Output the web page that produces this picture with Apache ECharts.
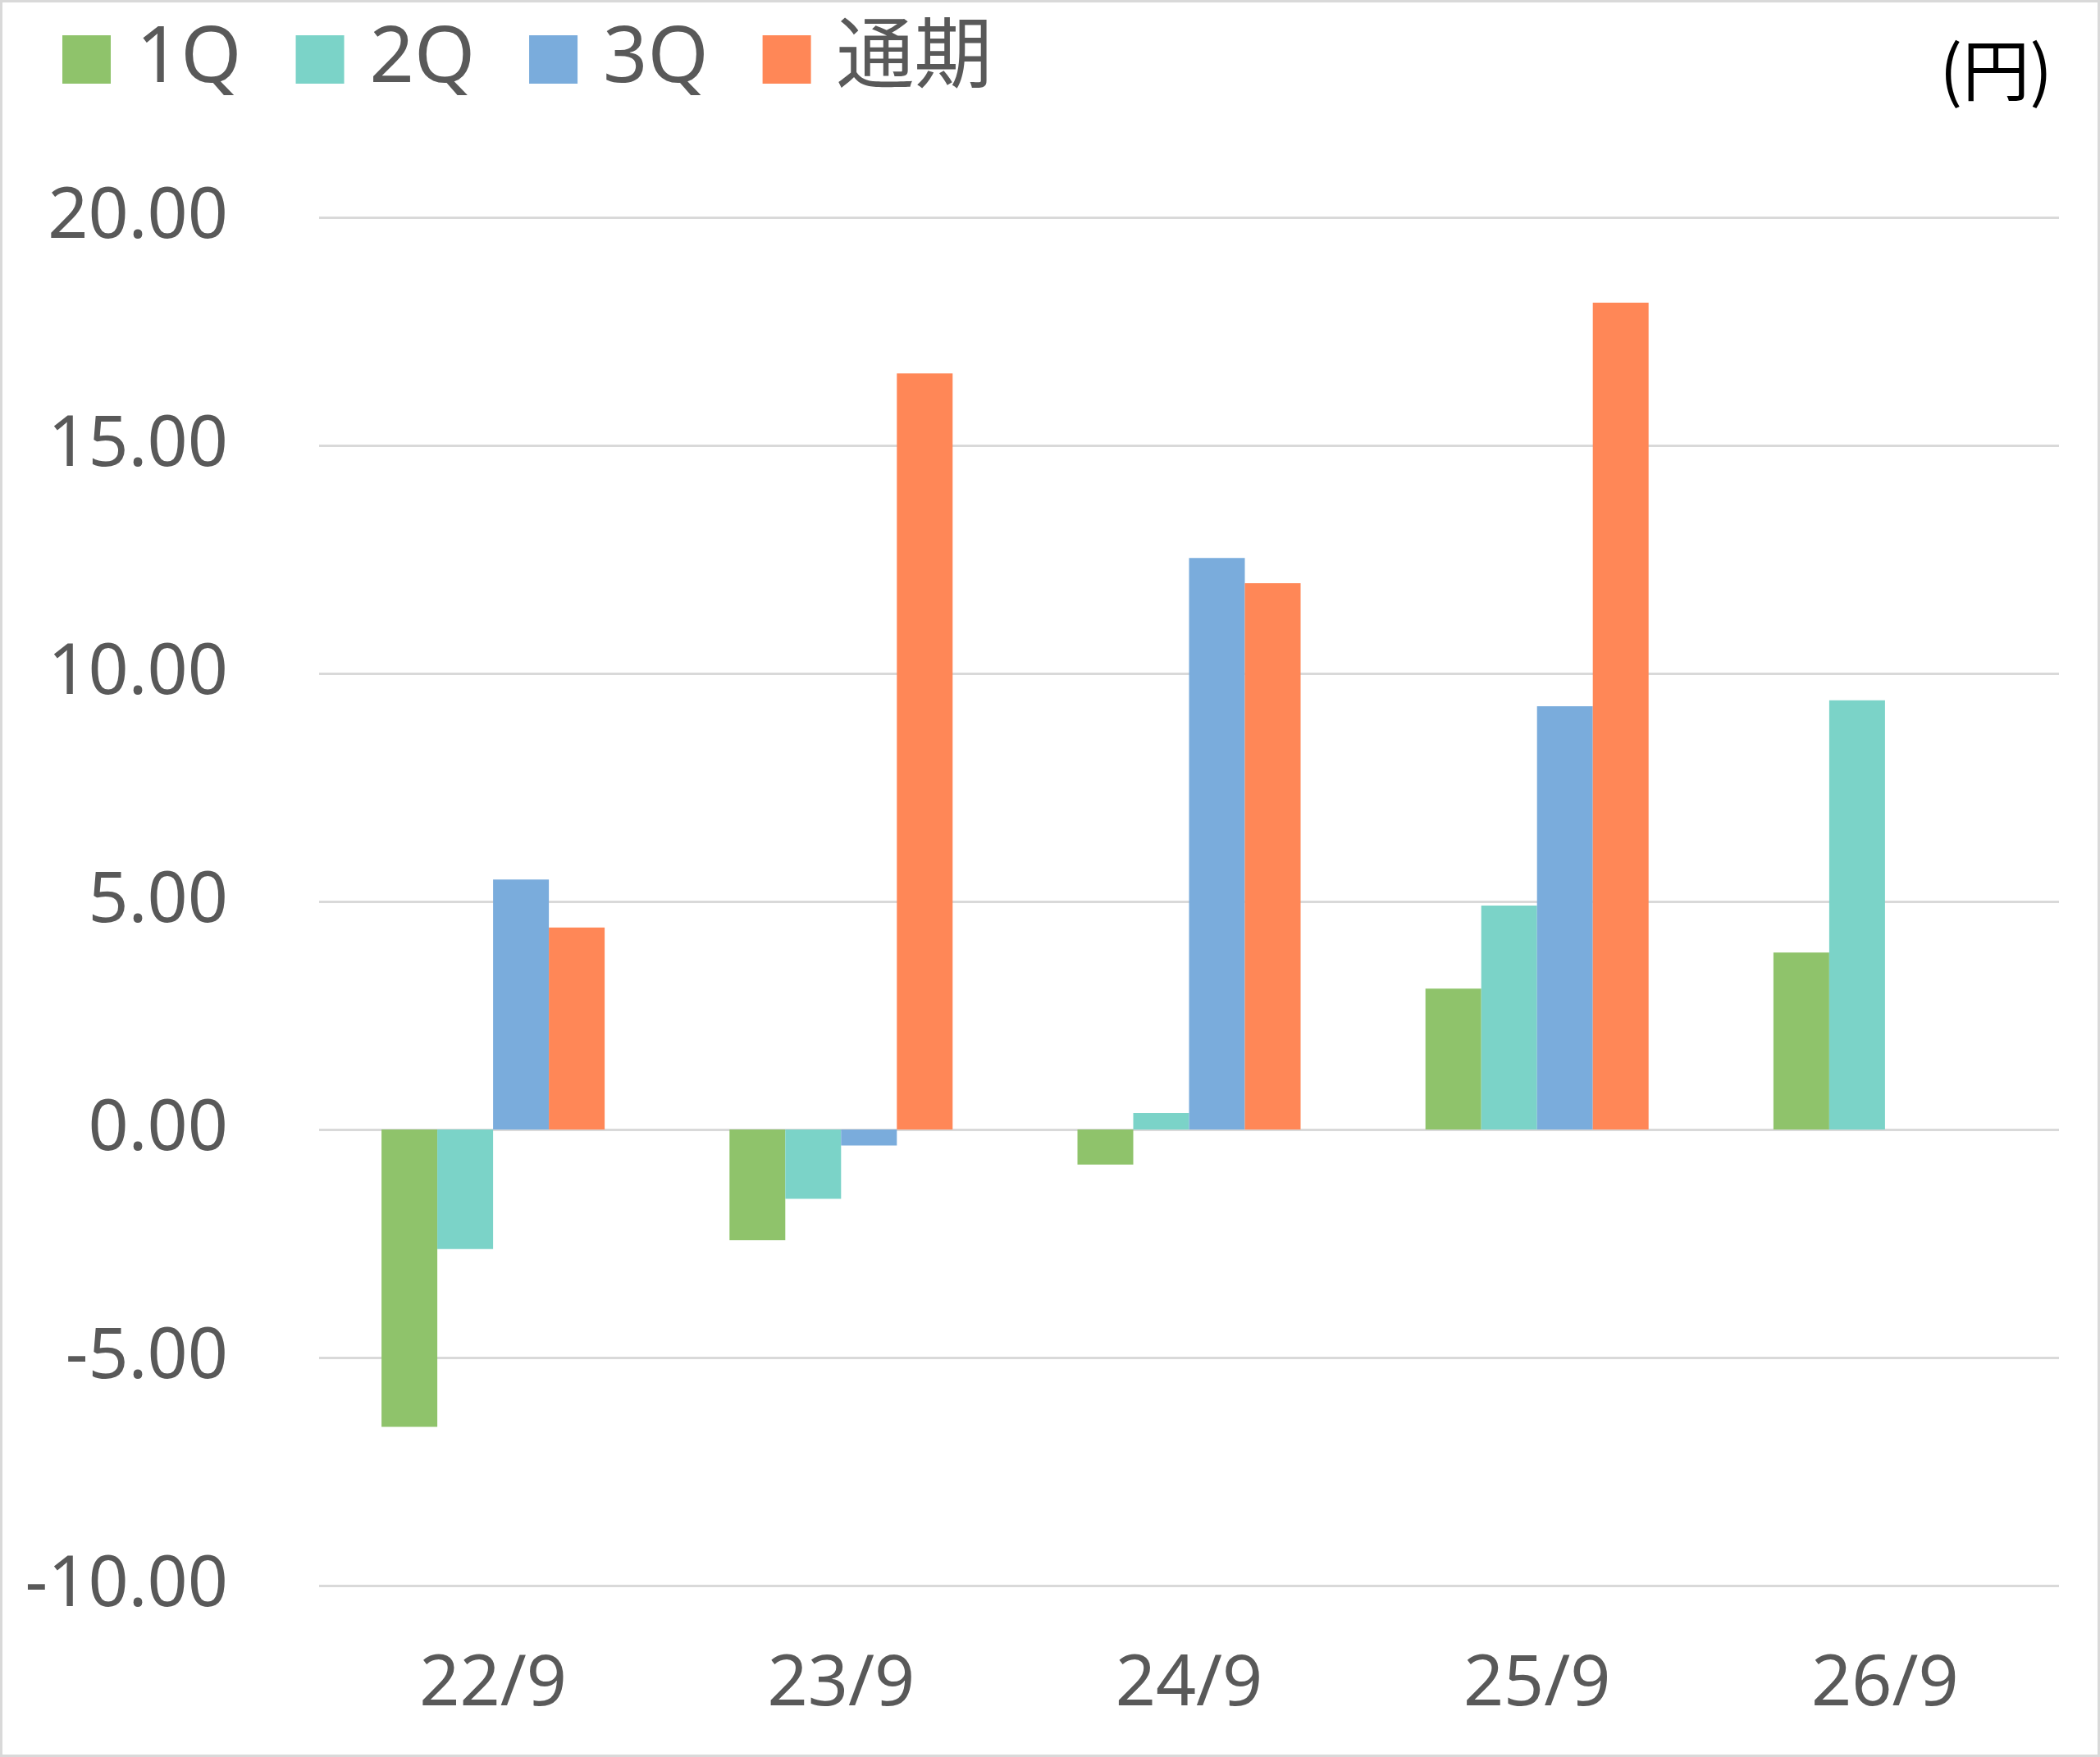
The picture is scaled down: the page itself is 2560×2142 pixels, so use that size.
<!DOCTYPE html>
<html lang="ja">
  <head>
    <meta charset="UTF-8" />
    <title>四半期別 推移</title>
    <script src="https://cdn.jsdelivr.net/npm/echarts@6.0.0/dist/echarts.min.js"></script>
    <style>
      html,
      body {
        margin: 0;
        padding: 0;
        background: #fff;
      }
      #main {
        width: 2560px;
        height: 2142px;
      }
    </style>
  </head>
  <body>
    <div id="main"></div>

    <script>
      // values (円)
      const periods = ["22/9", "23/9", "24/9", "25/9", "26/9"];
      const seriesNames = ["1Q", "2Q", "3Q", "通期"];
      const q1 = [-6.52, -2.43, -0.77, 3.09, 3.88];
      const q2 = [-2.62, -1.52, 0.36, 4.91, 9.41];
      const q3 = [5.48, -0.35, 12.53, 9.28, null];
      const fullYear = [4.43, 16.58, 11.98, 18.13, null];
      const colors = ["#8FC36B", "#7BD3C8", "#7AACDC", "#FF8757"];

      const font = "'Noto Sans', 'Noto Sans CJK JP', sans-serif";
      const textColor = "#595959";
      const gridColor = "#D9D9D9";

      const chart = echarts.init(document.getElementById("main"));

      function bar(name, data, color) {
        return {
          name: name,
          type: "bar",
          data: data,
          barWidth: 68,
          barGap: "0%",
          itemStyle: { color: color },
          emphasis: { disabled: true },
        };
      }

      const option = {
        animation: false,
        textStyle: { fontFamily: font },
        graphic: [
          {
            type: "rect",
            silent: true,
            shape: { x: 0, y: 0, width: 2560, height: 2142 },
            style: { fill: "none", stroke: gridColor, lineWidth: 6 },
          },
          {
            type: "text",
            right: 58,
            top: 44,
            style: {
              text: "(円)",
              font: "82px 'Noto Sans CJK JP', sans-serif",
              fill: "#000",
            },
          },
        ],
        legend: {
          left: 71,
          top: 20,
          itemWidth: 59,
          itemHeight: 59,
          itemGap: 66,
          icon: "rect",
          selectedMode: false,
          textStyle: {
            fontFamily: font,
            fontSize: 95,
            color: textColor,
            padding: [0, 0, 0, 26],
          },
          data: seriesNames,
        },
        grid: {
          left: 389,
          right: 50,
          top: 265,
          bottom: 209,
          containLabel: false,
        },
        xAxis: {
          type: "category",
          data: periods,
          axisLine: { show: false, onZero: false },
          axisTick: { show: false },
          axisLabel: {
            margin: 78,
            fontSize: 86,
            color: textColor,
            fontFamily: font,
          },
        },
        yAxis: {
          type: "value",
          min: -10,
          max: 20,
          interval: 5,
          axisLine: { show: false },
          axisTick: { show: false },
          axisLabel: {
            margin: 111,
            fontSize: 86,
            color: textColor,
            fontFamily: font,
            formatter: (v) => v.toFixed(2),
          },
          splitLine: { lineStyle: { color: gridColor, width: 3 } },
        },
        series: [
          bar(seriesNames[0], q1, colors[0]),
          bar(seriesNames[1], q2, colors[1]),
          bar(seriesNames[2], q3, colors[2]),
          bar(seriesNames[3], fullYear, colors[3]),
        ],
      };

      chart.setOption(option);
    </script>
  </body>
</html>
